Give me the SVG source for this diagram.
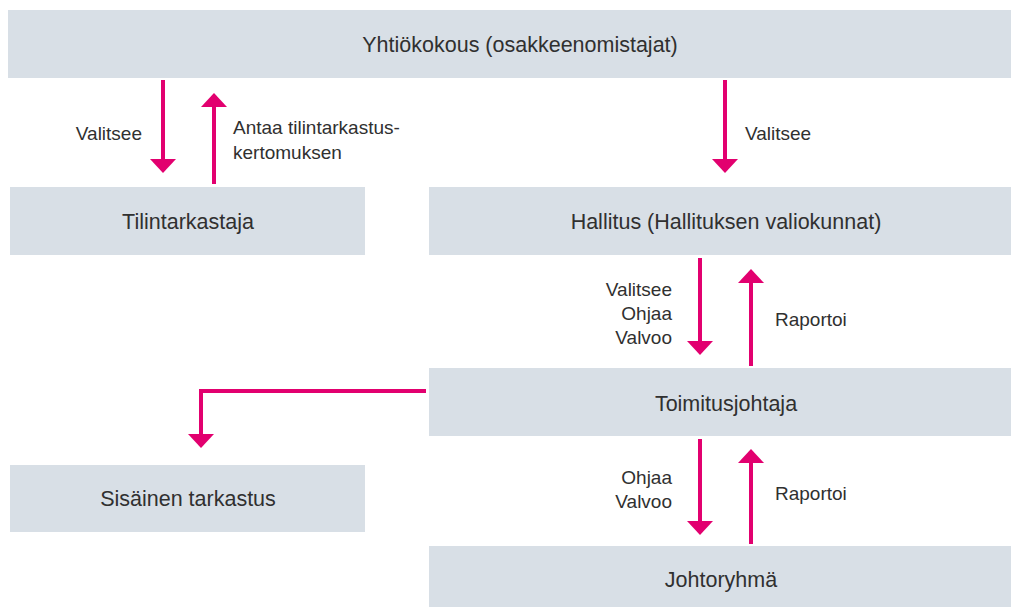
<svg xmlns="http://www.w3.org/2000/svg" width="1012" height="607" viewBox="0 0 1012 607">
<style>
.box{fill:#d8dfe6}
.t{font-family:"Liberation Sans",Arial,sans-serif;font-size:21.5px;fill:#303030;text-anchor:middle}
.l{font-family:"Liberation Sans",Arial,sans-serif;font-size:19px;fill:#303030}
.r{text-anchor:end}
.c{stroke:#e2006f;stroke-width:4;fill:none}
</style>
<defs>
<marker id="ah" viewBox="0 0 14 26" refX="1" refY="13" markerWidth="14" markerHeight="26" markerUnits="userSpaceOnUse" orient="auto">
<path d="M0,0 L14,13 L0,26 Z" fill="#e2006f"/>
</marker>
</defs>
<rect width="1012" height="607" fill="#fff"/>
<g id="yhtiokokous"><rect class="box" x="8" y="10" width="1003" height="68"/><text class="t" x="520" y="52">Yhtiökokous (osakkeenomistajat)</text></g>
<g id="tilintarkastaja"><rect class="box" x="10" y="187" width="355" height="68"/><text class="t" x="188" y="229">Tilintarkastaja</text></g>
<g id="hallitus"><rect class="box" x="429" y="187" width="582" height="68"/><text class="t" x="726" y="229">Hallitus (Hallituksen valiokunnat)</text></g>
<g id="toimitusjohtaja"><rect class="box" x="429" y="368" width="582" height="68"/><text class="t" x="726" y="411">Toimitusjohtaja</text></g>
<g id="sisainen"><rect class="box" x="10" y="465" width="355" height="67"/><text class="t" x="188" y="506">Sisäinen tarkastus</text></g>
<g id="johtoryhma"><rect class="box" x="429" y="546" width="582" height="61"/><text class="t" x="721" y="587">Johtoryhmä</text></g>
<g id="connectors">
<path class="c" d="M163,80 V160" marker-end="url(#ah)"/>
<path class="c" d="M214,184 V106" marker-end="url(#ah)"/>
<path class="c" d="M725,80 V160" marker-end="url(#ah)"/>
<path class="c" d="M700,258 V342" marker-end="url(#ah)"/>
<path class="c" d="M751,366 V282" marker-end="url(#ah)"/>
<path class="c" d="M700,439 V522" marker-end="url(#ah)"/>
<path class="c" d="M751,544 V462" marker-end="url(#ah)"/>
<path class="c" d="M426,391 H201 V435" marker-end="url(#ah)"/>
</g>
<g id="labels">
<text class="l r" x="142" y="140">Valitsee</text>
<text class="l" x="233" y="134">Antaa tilintarkastus-</text>
<text class="l" x="233" y="159">kertomuksen</text>
<text class="l" x="745" y="140">Valitsee</text>
<text class="l r" x="672" y="296">Valitsee</text>
<text class="l r" x="672" y="320">Ohjaa</text>
<text class="l r" x="672" y="344">Valvoo</text>
<text class="l" x="775" y="326">Raportoi</text>
<text class="l r" x="672" y="484">Ohjaa</text>
<text class="l r" x="672" y="508">Valvoo</text>
<text class="l" x="775" y="500">Raportoi</text>
</g>
</svg>
